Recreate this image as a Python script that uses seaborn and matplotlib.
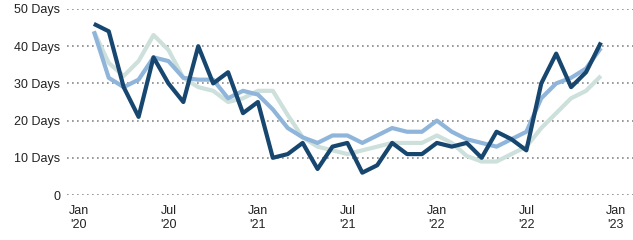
import matplotlib
matplotlib.use("Agg")
import matplotlib.pyplot as plt
import seaborn as sns
import pandas as pd
import numpy as np

months = pd.date_range("2020-02-01", "2022-12-01", freq="MS")

dark = [46, 44, 29, 21, 37, 30, 25, 40, 30, 33, 22, 25,
        10, 11, 14, 7, 13, 14, 6, 8, 14, 11, 11, 14,
        13, 14, 10, 17, 15, 12, 30, 38, 29, 33, 41]
medium = [44, 31.5, 29, 31, 37, 36, 31.5, 31, 31, 26, 28, 27,
          23, 18, 15.5, 14, 16, 16, 14, 16, 18, 17, 17, 20,
          17, 15, 14, 13, 15, 17, 26, 30, 31.5, 34, 39.5]
light = [44, 35.5, 32, 36, 43, 39, 31.5, 29, 28, 25, 26, 28,
         28, 21.5, 15.5, 13, 12, 11, 12, 13, 14, 14, 14, 16,
         14, 10.5, 9, 9, 11, 13, 18, 22, 26, 28, 32]

ytick_vals = [0, 10, 20, 30, 40, 50]
ytick_labels = ["0", "10 Days", "20 Days", "30 Days", "40 Days", "50 Days"]
xtick_labels = ["Jan\n'20", "Jul\n'20", "Jan\n'21", "Jul\n'21", "Jan\n'22", "Jul\n'22", "Jan\n'23"]

# month index relative to Jan 2020
midx = [(d.year - 2020) * 12 + d.month - 1 for d in months]
df = pd.DataFrame({"m": midx * 3,
                   "v": light + medium + dark,
                   "s": ["light"] * len(light) + ["medium"] * len(medium) + ["dark"] * len(dark)})

sns.set_theme(style="white")
plt.rcParams['font.family'] = ['Liberation Sans', 'DejaVu Sans']

fig = plt.figure(figsize=(6.33, 2.40), dpi=100)
ax = fig.add_axes([67/633, 1 - 195/240, 1 - 67/633, (195 - 9)/240])

palette = {"light": "#cde0db", "medium": "#8fb5da", "dark": "#17466f"}
sns.lineplot(data=df, x="m", y="v", hue="s", hue_order=["light", "medium", "dark"],
             palette=palette, linewidth=3.0, legend=False, ax=ax, zorder=3)

ax.set_ylim(0, 50)
ax.set_xlim(-0.8, 37.15)
ax.set_yticks(ytick_vals)
ax.set_yticklabels(ytick_labels, fontsize=9, color="#222222")
ax.set_xticks([0, 6, 12, 18, 24, 30, 36])
ax.set_xticklabels(xtick_labels, fontsize=9, color="#222222", linespacing=1.2)
ax.tick_params(axis="both", length=0)
ax.tick_params(axis="y", pad=5)
ax.tick_params(axis="x", pad=7)
for lbl in ax.get_xticklabels():
    lbl.set_ha("center")
ax.set_xlabel("")
ax.set_ylabel("")
for sp in ax.spines.values():
    sp.set_visible(False)
ax.yaxis.grid(True, linestyle=(0, (1, 2)), color="#888888", linewidth=1.2)
ax.xaxis.grid(False)
for line in ax.get_lines():
    line.set_clip_on(False)
    line.set_solid_capstyle("butt")

fig.savefig("out.png", dpi=100)
